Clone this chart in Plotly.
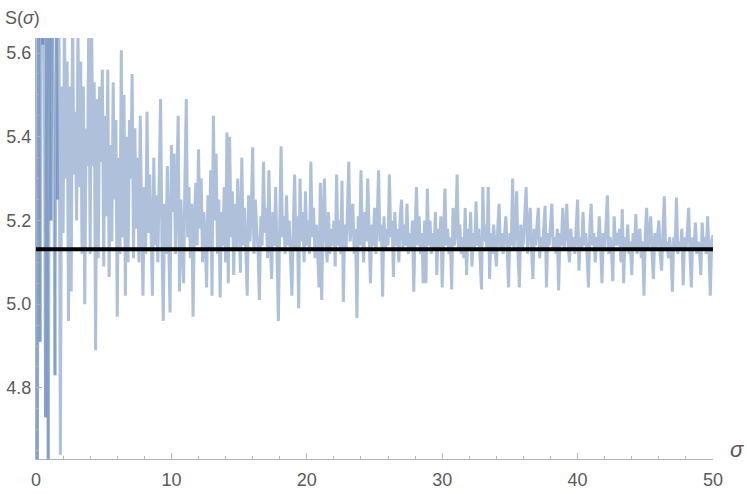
import numpy as np
import plotly.graph_objects as go

# sigma grid (step 0.1 from 0 to 50)
sigma = np.round(np.linspace(0, 50, 501), 1)

# S(sigma) values (one row per unit of sigma)
S_values = [
    5.70, 4.55, 5.80, 4.91, 5.75, 5.62, 5.70, 4.73, 5.72, 4.55,
    5.68, 5.20, 5.70, 5.45, 4.83, 5.70, 5.25, 5.66, 4.64, 5.52,
    5.17, 5.68, 5.30, 5.58, 4.96, 5.52, 5.03, 5.70, 5.31, 5.46,
    5.20, 5.66, 5.28, 5.58, 5.12, 5.52, 5.00, 5.42, 5.33, 5.68,
    5.12, 5.70, 5.33, 5.53, 4.89, 5.49, 5.11, 5.52, 5.34, 5.56,
    5.09, 5.45, 5.21, 5.56, 5.065, 5.38, 5.15, 5.53, 5.25, 5.44,
    4.97, 5.35, 5.12, 5.607, 5.16, 5.50, 5.02, 5.40, 5.10, 5.44,
    5.30, 5.55, 5.11, 5.42, 5.18, 5.35, 5.10, 5.45, 5.20, 5.02,
    5.28, 5.12, 5.46, 5.17, 5.31, 5.13, 5.02, 5.35, 5.14, 5.26,
    5.10, 5.30, 5.49, 5.15, 4.96, 5.24, 5.12, 5.33, 5.16, 4.98,
    5.38, 5.22, 5.36, 5.12, 5.27, 5.45, 5.03, 5.25, 5.14, 5.05,
    5.30, 5.49, 5.16, 5.28, 5.11, 5.24, 4.97, 5.20, 5.29, 5.14,
    5.37, 5.18, 5.30, 5.10, 5.22, 5.15, 5.04, 5.26, 5.13, 5.32,
    5.02, 5.45, 5.20, 5.36, 5.12, 5.25, 5.016, 5.22, 5.14, 5.28,
    5.10, 5.41, 5.05, 5.40, 5.16, 5.27, 5.07, 5.24, 5.13, 5.30,
    5.20, 5.075, 5.35, 5.14, 5.23, 5.12, 5.02, 5.26, 5.15, 5.22,
    5.375, 5.12, 5.25, 5.18, 5.13, 5.01, 5.21, 5.14, 5.34, 5.17,
    5.23, 5.11, 5.32, 5.15, 5.06, 5.22, 5.14, 5.28, 5.12, 4.96,
    5.19, 5.377, 5.16, 5.21, 5.12, 5.26, 5.14, 5.20, 5.11, 5.02,
    5.18, 5.31, 5.13, 5.21, 4.99, 5.30, 5.15, 5.22, 5.10, 5.27,
    5.14, 5.20, 5.12, 5.34, 5.16, 5.23, 5.11, 5.19, 5.13, 5.04,
    5.29, 5.01, 5.21, 5.30, 5.15, 5.10, 5.22, 5.12, 5.18, 5.14,
    5.20, 5.09, 5.31, 5.14, 5.20, 5.12, 5.295, 5.005, 5.19, 5.13,
    5.22, 5.34, 5.15, 5.20, 5.24, 5.12, 5.18, 4.967, 5.21, 5.14,
    5.32, 5.16, 5.10, 5.22, 5.15, 5.30, 5.13, 5.05, 5.19, 5.14,
    5.23, 5.12, 5.20, 5.32, 5.15, 5.19, 5.018, 5.21, 5.13, 5.18,
    5.14, 5.31, 5.16, 5.20, 5.065, 5.22, 5.14, 5.18, 5.10, 5.21,
    5.25, 5.13, 5.19, 5.14, 5.24, 5.12, 5.17, 5.13, 5.20, 5.03,
    5.18, 5.28, 5.14, 5.21, 5.12, 5.17, 5.05, 5.20, 5.05, 5.276,
    5.14, 5.20, 5.12, 5.17, 5.13, 5.22, 5.07, 5.18, 5.13, 5.21,
    5.04, 5.19, 5.276, 5.14, 5.18, 5.12, 5.16, 5.035, 5.23, 5.14,
    5.17, 5.31, 5.13, 5.19, 5.12, 5.16, 5.11, 5.23, 5.07, 5.18,
    5.13, 5.22, 5.09, 5.17, 5.13, 5.245, 5.14, 5.18, 5.12, 5.035,
    5.28, 5.15, 5.19, 5.13, 5.28, 5.06, 5.17, 5.12, 5.19, 5.14,
    5.09, 5.18, 5.24, 5.13, 5.17, 5.12, 5.16, 5.21, 5.13, 5.04,
    5.17, 5.14, 5.30, 5.13, 5.18, 5.27, 5.12, 5.04, 5.19, 5.13,
    5.15, 5.21, 5.28, 5.12, 5.17, 5.23, 5.13, 5.06, 5.18, 5.14,
    5.19, 5.23, 5.11, 5.16, 5.13, 5.19, 5.235, 5.04, 5.17, 5.14,
    5.18, 5.24, 5.13, 5.16, 5.12, 5.18, 5.033, 5.17, 5.14, 5.23,
    5.13, 5.17, 5.24, 5.14, 5.10, 5.18, 5.13, 5.16, 5.12, 5.19,
    5.25, 5.08, 5.16, 5.13, 5.22, 5.14, 5.17, 5.12, 5.04, 5.18,
    5.24, 5.14, 5.17, 5.10, 5.16, 5.13, 5.21, 5.14, 5.05, 5.17,
    5.13, 5.19, 5.26, 5.12, 5.16, 5.13, 5.055, 5.21, 5.14, 5.17,
    5.14, 5.18, 5.10, 5.227, 5.05, 5.16, 5.13, 5.19, 5.12, 5.15,
    5.07, 5.17, 5.13, 5.215, 5.12, 5.16, 5.18, 5.11, 5.15, 5.02,
    5.17, 5.23, 5.13, 5.16, 5.21, 5.12, 5.06, 5.17, 5.13, 5.16,
    5.20, 5.12, 5.08, 5.17, 5.258, 5.13, 5.15, 5.11, 5.16, 5.12,
    5.03, 5.16, 5.13, 5.255, 5.12, 5.15, 5.13, 5.18, 5.045, 5.16,
    5.13, 5.17, 5.23, 5.12, 5.04, 5.16, 5.13, 5.195, 5.12, 5.15,
    5.13, 5.07, 5.195, 5.13, 5.16, 5.12, 5.21, 5.13, 5.02, 5.15,
    5.165,
]

S_limit = 5.131

x_ticks = [0, 10, 20, 30, 40, 50]
y_ticks = [4.8, 5.0, 5.2, 5.4, 5.6]
y_tick_text = ["4.8", "5.0", "5.2", "5.4", "5.6"]

line_color = "rgba(94,129,181,0.5)"
axis_color = "#b3b3b3"
label_color = "#5a5a5a"
font_family = "Liberation Sans, Arial, sans-serif"

fig = go.Figure()

# early, strongly oscillating part drawn segment by segment (overlaps darken)
n_dark = 17
for i in range(n_dark - 1):
    fig.add_trace(go.Scatter(
        x=sigma[i:i + 2], y=S_values[i:i + 2], mode="lines",
        line=dict(color=line_color, width=3), hoverinfo="skip"))

fig.add_trace(go.Scatter(
    x=sigma[n_dark - 1:], y=S_values[n_dark - 1:], mode="lines",
    line=dict(color=line_color, width=3)))

fig.add_trace(go.Scatter(
    x=[sigma[0], sigma[-1]], y=[S_limit, S_limit], mode="lines",
    line=dict(color="black", width=4)))

fig.update_layout(
    width=747, height=494,
    margin=dict(l=36, r=34, t=38, b=35, autoexpand=False),
    paper_bgcolor="white", plot_bgcolor="white",
    showlegend=False,
    font=dict(family=font_family, size=18, color=label_color),
    xaxis=dict(
        range=[0, 50], tickvals=x_ticks, showgrid=False, zeroline=False,
        automargin=False,
        showline=True, linecolor=axis_color, linewidth=1,
        ticks="inside", ticklen=6, tickcolor=axis_color,
        tickfont=dict(size=18, color=label_color),
        ticklabelstandoff=4,
        minor=dict(dtick=2, tick0=0, ticks="inside", ticklen=3, tickcolor=axis_color),
    ),
    yaxis=dict(
        range=[4.63, 5.636], tickvals=y_ticks, ticktext=y_tick_text,
        showgrid=False, zeroline=False,
        automargin=False,
        showline=True, linecolor=axis_color, linewidth=1,
        ticks="inside", ticklen=6, tickcolor=axis_color,
        tickfont=dict(size=18, color=label_color),
        minor=dict(dtick=0.05, tick0=4.6, ticks="inside", ticklen=3, tickcolor=axis_color),
    ),
    annotations=[
        dict(text="S(<i>σ</i>)", xref="paper", yref="paper", x=-0.020, y=1.048,
             xanchor="center", yanchor="middle", showarrow=False,
             font=dict(size=18, color=label_color, family=font_family)),
        dict(text="<i>σ</i>", xref="paper", yref="paper", x=1.035, y=0.022,
             xanchor="center", yanchor="middle", showarrow=False,
             font=dict(size=22, color=label_color, family=font_family)),
    ],
)

fig.write_html(
    "out.html",
    config={"displayModeBar": False},
    post_script="document.body.style.margin='0';document.body.style.padding='0';",
)
